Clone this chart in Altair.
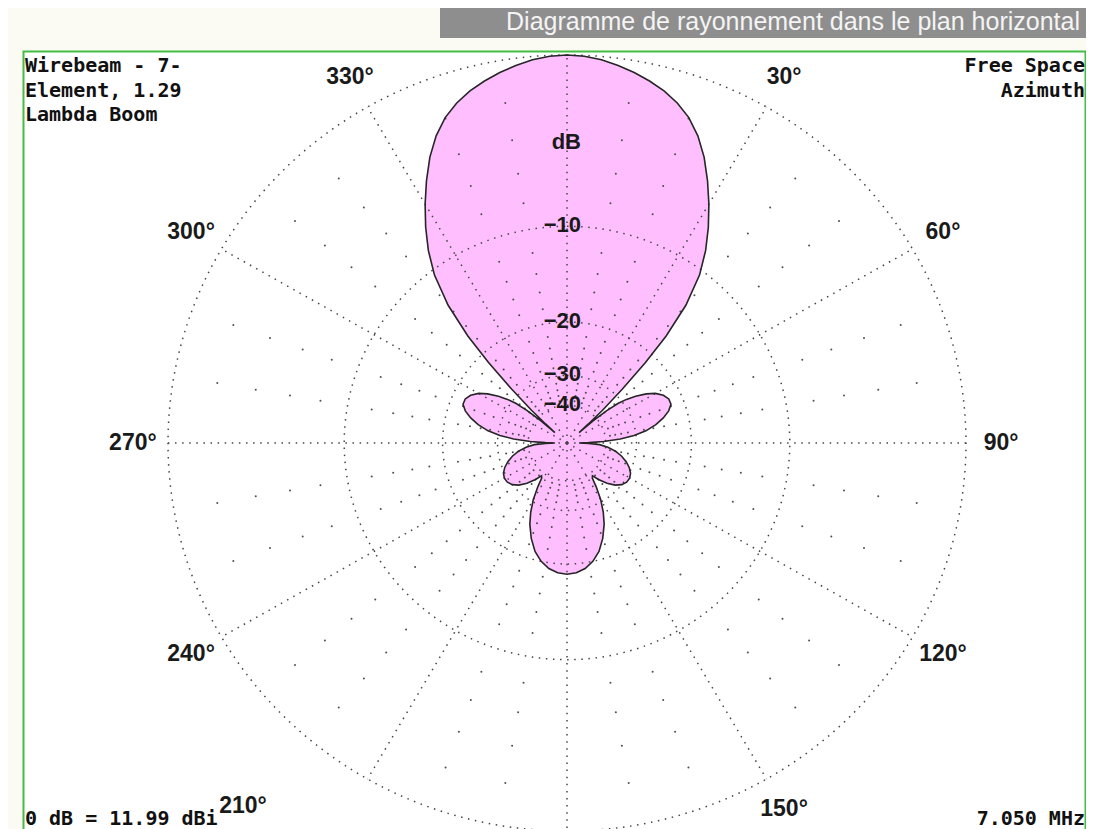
import altair as alt
import pandas as pd

# ---------------- texts ----------------
title_text = "Diagramme de rayonnement dans le plan horizontal"
info_left = ["Wirebeam - 7-", "Element, 1.29", "Lambda Boom"]
info_right = ["Free Space", "Azimuth"]
gain_note = ["0 dB = 11.99 dBi"]
freq_note = ["7.050 MHz"]

# ---------------- radiation pattern (azimuth in degrees, relative gain in dB) ----------------
pattern_az = [0, 2.5, 5, 7.5, 10, 12.5, 15, 17.5, 20, 22.5, 25, 27.5, 30, 32.5, 35, 37.5, 40, 42,
              43.5, 45, 46.5, 47.5, 48.3, 49, 50, 51.5, 53, 55, 57.5, 60, 63, 66, 69, 72, 75, 78,
              81, 83.5, 85.5, 87.5, 89, 90, 91, 93, 96, 100, 104, 108, 112, 116, 120, 124, 128,
              132, 136, 140, 143, 145, 147, 150, 153, 156, 160, 164, 168, 172, 176, 180,
              184, 188, 192, 196, 200, 204, 207, 210, 213, 215, 217, 220, 224, 228, 232, 236,
              240, 244, 248, 252, 256, 260, 264, 267, 269, 270, 271, 272.5, 274.5, 276.5, 279,
              282, 285, 288, 291, 294, 297, 300, 302.5, 305, 307, 308.5, 310, 311, 311.7, 312.5,
              313.5, 315, 316.5, 318, 320, 322.5, 325, 327.5, 330, 332.5, 335, 337.5, 340, 342.5,
              345, 347.5, 350, 352.5, 355, 357.5]
pattern_db = [0.0, -0.04, -0.15, -0.32, -0.53, -0.78, -1.07, -1.45, -1.95, -2.65, -3.55, -4.65,
              -5.85, -7.15, -8.6, -10.4, -13.2, -17.0, -21.5, -28.0, -36.0, -45.0, -55.0, -42.0,
              -35.0, -31.0, -28.8, -26.8, -24.8, -23.4, -22.4, -21.9, -21.9, -22.6, -23.8, -25.4,
              -27.6, -30.5, -34.5, -41.0, -50.0, -60.0, -50.0, -43.0, -39.0, -35.8, -33.6, -31.9,
              -30.6, -29.7, -29.3, -29.4, -30.0, -31.2, -33.2, -36.0, -38.5, -37.8, -34.5, -30.5,
              -27.6, -25.3, -23.0, -21.2, -20.0, -19.2, -18.75, -18.6,
              -18.75, -19.2, -20.0, -21.2, -23.0, -25.3, -27.6, -30.5, -34.5, -37.8, -38.5, -36.0,
              -33.2, -31.2, -30.0, -29.4, -29.3, -29.7, -30.6, -31.9, -33.6, -35.8, -39.0, -43.0,
              -50.0, -60.0, -50.0, -41.0, -34.5, -30.5, -27.6, -25.4, -23.8, -22.6, -21.9, -21.9,
              -22.4, -23.4, -24.8, -26.8, -28.8, -31.0, -35.0, -42.0, -55.0, -45.0, -36.0, -28.0,
              -21.5, -17.0, -13.2, -10.4, -8.6, -7.15, -5.85, -4.65, -3.55, -2.65, -1.95, -1.45,
              -1.07, -0.78, -0.53, -0.32, -0.15, -0.04]

# ---------------- grid definition ----------------
ring_db = [0, -10, -20, -30, -40]
spoke_az = [0, 30, 60, 90, 120, 150, 180, 210, 240, 270, 300, 330]
minor_az = [10, 20, 40, 50, 70, 80, 100, 110, 130, 140, 160, 170,
            190, 200, 220, 230, 250, 260, 280, 290, 310, 320, 340, 350]
minor_db = [-2, -4, -6, -8, -12, -14, -16, -18, -22, -24, -26, -28, -32, -34, -36, -38]
label_az = [30, 60, 90, 120, 150, 240, 270, 300, 330]
label_txt = ["30°", "60°", "90°", "120°", "150°", "240°", "270°", "300°", "330°"]
label2_az = [210]
label2_txt = ["210°"]
dblabel_db = [-4.4, -10, -20, -30, -40]
dblabel_txt = ["dB", "−10", "−20", "−30", "−40"]

# ---------------- tables ----------------
pattern_df = pd.DataFrame({"az": pattern_az, "db": pattern_db, "idx": list(range(len(pattern_az)))})
ring_df = pd.DataFrame([{"ring": d, "az": a, "db": d} for d in ring_db for a in range(0, 361)])
spoke_df = pd.DataFrame({"az": spoke_az})
minor_df = pd.DataFrame([{"az": a, "db": d} for a in minor_az for d in minor_db])
label_df = pd.DataFrame({"az": label_az, "txt": label_txt})
label2_df = pd.DataFrame({"az": label2_az, "txt": label2_txt})
dblabel_df = pd.DataFrame({"az": [0] * len(dblabel_db), "db": dblabel_db, "txt": dblabel_txt})
one = pd.DataFrame({"k": [0]})

# ---------------- layout ----------------
W, H = 1078, 821
CX, CY, RX, RY = 559, 435, 399, 388
xs = alt.Scale(domain=[-1, 1], range=[CX - RX, CX + RX], nice=False, zero=False)
ys = alt.Scale(domain=[-1, 1], range=[CY + RY, CY - RY], nice=False, zero=False)
X = alt.X("px:Q", scale=xs, axis=None)
Y = alt.Y("py:Q", scale=ys, axis=None)

GRID = "#454545"
DASH = [1.5, 5.6]


def polar(ch):
    return ch.transform_calculate(
        rr="pow(0.89, -datum.db / 2)"
    ).transform_calculate(
        px="datum.rr * sin(datum.az * PI / 180)",
        py="datum.rr * cos(datum.az * PI / 180)",
    )


def polar_at(ch, k):
    return ch.transform_calculate(
        px=f"{k} * sin(datum.az * PI / 180)",
        py=f"{k} * cos(datum.az * PI / 180)",
    )


frame = alt.Chart(one).mark_rect(fill="white", stroke="#45bd45", strokeWidth=2).encode(
    x=alt.value(15.5), x2=alt.value(1077.5), y=alt.value(43.5), y2=alt.value(H + 10))

title_box = alt.Chart(one).mark_rect(fill="#8e8e8e").encode(
    x=alt.value(432), x2=alt.value(1079), y=alt.value(0), y2=alt.value(30))
title = alt.Chart(pd.DataFrame({"t": [title_text]})).mark_text(
    font="Liberation Sans", fontSize=25, color="#f4f4f4", align="right", baseline="middle"
).encode(x=alt.value(1072), y=alt.value(14), text="t:N")

pat_fill = polar(alt.Chart(pattern_df)).mark_line(
    interpolate="linear-closed", fill="#ffbfff", stroke="#ffbfff", strokeWidth=0.5
).encode(x=X, y=Y, order="idx:Q")

rings = polar(alt.Chart(ring_df)).mark_line(
    stroke=GRID, strokeWidth=1.5, strokeDash=DASH
).encode(x=X, y=Y, detail="ring:N", order="az:Q")

spokes = alt.Chart(spoke_df).transform_calculate(
    x0="0", y0="0",
    px="sin(datum.az * PI / 180)", py="cos(datum.az * PI / 180)"
).mark_rule(stroke=GRID, strokeWidth=1.5, strokeDash=DASH).encode(
    x=alt.X("x0:Q", scale=xs, axis=None), y=alt.Y("y0:Q", scale=ys, axis=None),
    x2="px:Q", y2="py:Q")

minor = polar(alt.Chart(minor_df)).mark_circle(size=4, color=GRID, opacity=0.95).encode(x=X, y=Y)

pat_line = polar(alt.Chart(pattern_df)).mark_line(
    interpolate="linear-closed", stroke="#262626", strokeWidth=1.6
).encode(x=X, y=Y, order="idx:Q")

lab_font = dict(font="Liberation Sans", fontWeight="bold", fontSize=23, color="#1a1a1a",
                align="center", baseline="middle")
labels = polar_at(alt.Chart(label_df), 1.088).mark_text(**lab_font).encode(x=X, y=Y, text="txt:N")
labels2 = polar_at(alt.Chart(label2_df), 1.088).mark_text(dx=-107, dy=-3, **lab_font).encode(
    x=X, y=Y, text="txt:N")

dblabels = polar(alt.Chart(dblabel_df)).mark_text(
    font="Liberation Sans", fontWeight="bold", fontSize=22, color="#1a1a1a",
    align="right", baseline="middle", dx=14, dy=-1
).encode(x=X, y=Y, text="txt:N")

mono = dict(font="DejaVu Sans Mono", fontWeight="bold", fontSize=20, color="#111111")
tl = alt.Chart(pd.DataFrame({"t": [info_left]})).mark_text(
    align="left", baseline="top", lineHeight=24.5, **mono).encode(
    x=alt.value(17), y=alt.value(48), text="t")
tr = alt.Chart(pd.DataFrame({"t": [info_right]})).mark_text(
    align="right", baseline="top", lineHeight=24.5, **mono).encode(
    x=alt.value(1077), y=alt.value(48), text="t")
bl = alt.Chart(pd.DataFrame({"t": gain_note})).mark_text(
    align="left", baseline="alphabetic", **mono).encode(
    x=alt.value(17), y=alt.value(817), text="t:N")
br = alt.Chart(pd.DataFrame({"t": freq_note})).mark_text(
    align="right", baseline="alphabetic", **mono).encode(
    x=alt.value(1077), y=alt.value(817), text="t:N")

chart = alt.layer(
    frame, title_box, title, pat_fill, rings, spokes, minor, pat_line,
    labels, labels2, dblabels, tl, tr, bl, br
).properties(
    width=W, height=H, padding=0, background="#fbfbf3",
    autosize=alt.AutoSizeParams(type="none")
).configure_view(stroke=None)

chart.save("out.html", embed_options={"renderer": "svg", "actions": False})
